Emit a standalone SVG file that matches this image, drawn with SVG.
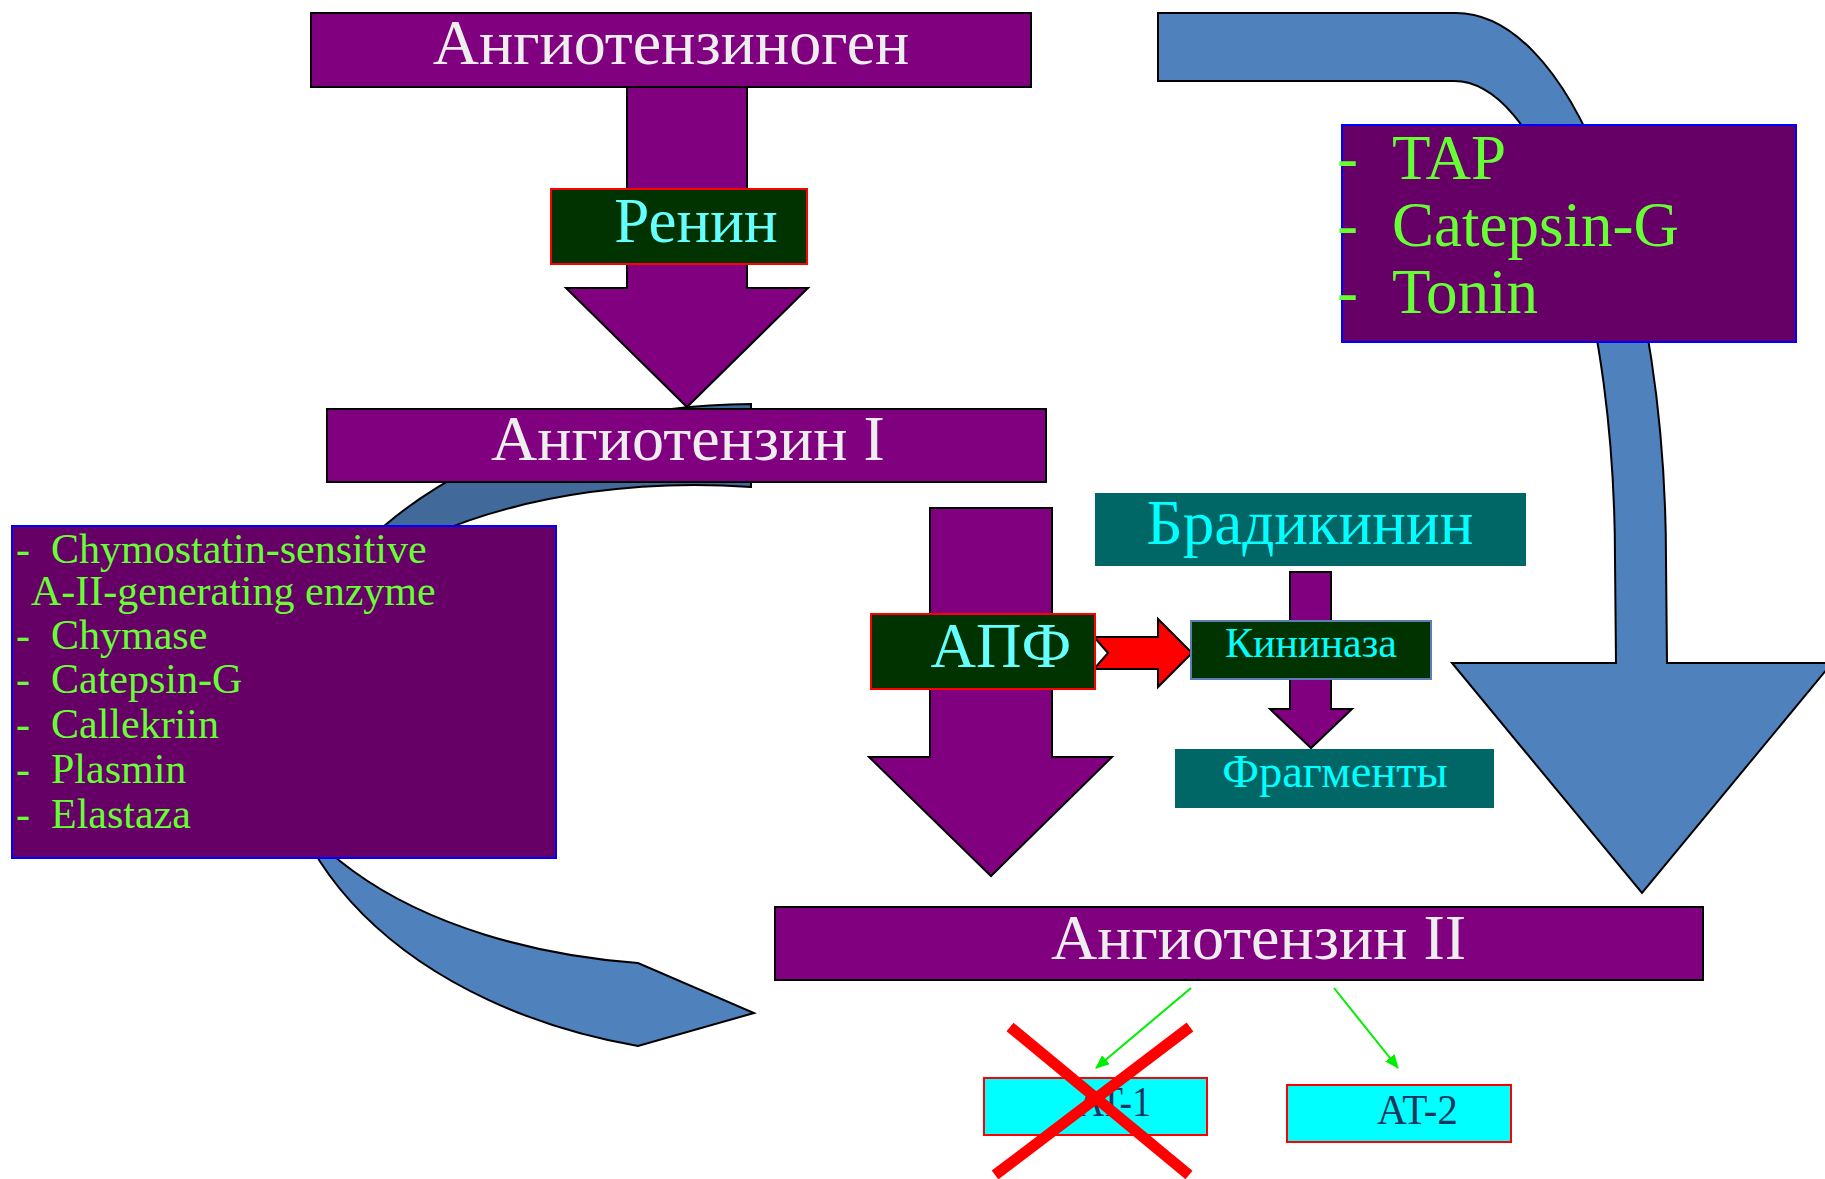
<svg xmlns="http://www.w3.org/2000/svg" width="1825" height="1179" viewBox="0 0 1825 1179">
<style>
text{font-family:"Liberation Serif","Times New Roman",serif}
.ang{fill:#800080;stroke:#000;stroke-width:2}
.angt{fill:#eeeeee;font-size:64px}
.enz{fill:#003300;stroke:#ff0000;stroke-width:2}
.enzt{fill:#66ffff;font-size:63px}
.lst{fill:#660066;stroke:#0000ff;stroke-width:2}
.lstt{fill:#66ff33}
.teal{fill:#006666}
.cy{fill:#00ffff}
.parr{fill:#800080;stroke:#000;stroke-width:2;stroke-linejoin:miter}
.barr{stroke:#000;stroke-width:2}
.at{fill:#00ffff;stroke:#ff0000;stroke-width:2}
.att{fill:#17375e;font-size:42px}
.garr{stroke:#00ee00;stroke-width:2;fill:none}
.x{stroke:#ff0000;stroke-width:11;stroke-linecap:butt}
</style>
<defs>
<linearGradient id="lg" gradientUnits="userSpaceOnUse" x1="0" y1="400" x2="0" y2="1050">
<stop offset="0" stop-color="#416a9a"/>
<stop offset="0.193" stop-color="#416a9a"/>
<stop offset="0.194" stop-color="#4f81bd"/>
<stop offset="1" stop-color="#4f81bd"/>
</linearGradient>
<marker id="ga" markerWidth="14" markerHeight="12" refX="13" refY="6" orient="auto" markerUnits="userSpaceOnUse">
<path d="M0,0 L14,6 L0,12 Z" fill="#00ee00"/>
</marker>
</defs>

<g id="connectors">
<path id="blue-right" class="barr" fill="#4f81bd" d="M1158,13 L1456,13 A210,547 0 0 1 1666,560 L1667,663 L1832,663 L1642,893 L1452,663 L1616,663 L1615,560 A161,479 0 0 0 1454,81 L1158,81 Z"/>
<path id="blue-left" class="barr" fill="url(#lg)" d="M751,404 A475,326 0 0 0 638,1046 L754,1013 L638,963 A430,240 0 0 1 751,487 Z"/>
<path id="arrow-renin" class="parr" d="M627,87 L747,87 L747,288 L808,288 L687,407 L566,288 L627,288 Z"/>
<path id="arrow-apf" class="parr" d="M930,508 L1052,508 L1052,757 L1112,757 L991,876 L869,757 L930,757 Z"/>
<path id="arrow-red" fill="#ff0000" stroke="#000" stroke-width="2" d="M1094,637 L1158,637 L1158,619 L1192,653 L1158,687 L1158,669 L1094,669 L1108,653 Z"/>
<path id="arrow-kin" class="parr" d="M1290,572 L1331,572 L1331,709 L1352,709 L1311,748 L1270,709 L1290,709 Z"/>
<line class="garr" x1="1191" y1="988" x2="1096" y2="1068" marker-end="url(#ga)"/>
<line class="garr" x1="1334" y1="988" x2="1398" y2="1068" marker-end="url(#ga)"/>
</g>

<g id="angiotensinogen">
<rect class="ang" x="311" y="13" width="720" height="74"/>
<text class="angt" x="671" y="64" text-anchor="middle">Ангиотензиноген</text>
</g>
<g id="renin">
<rect class="enz" x="551" y="189" width="256" height="75"/>
<text class="enzt" x="696" y="242" text-anchor="middle">Ренин</text>
</g>
<g id="angiotensin1">
<rect class="ang" x="327" y="409" width="719" height="73"/>
<text class="angt" x="688" y="460" text-anchor="middle">Ангиотензин I</text>
</g>
<g id="list-left">
<rect class="lst" x="12" y="526" width="544" height="332"/>
<g class="lstt" font-size="42">
<text x="16" y="563">-</text><text x="51" y="563">Chymostatin-sensitive</text>
<text x="31" y="605">A-II-generating enzyme</text>
<text x="16" y="649">-</text><text x="51" y="649">Chymase</text>
<text x="16" y="693">-</text><text x="51" y="693">Catepsin-G</text>
<text x="16" y="738">-</text><text x="51" y="738">Callekriin</text>
<text x="16" y="783">-</text><text x="51" y="783">Plasmin</text>
<text x="16" y="828">-</text><text x="51" y="828">Elastaza</text>
</g>
</g>
<g id="list-right">
<rect class="lst" x="1342" y="125" width="454" height="217"/>
<g class="lstt" font-size="63">
<text x="1337" y="179">-</text><text x="1392" y="179">TAP</text>
<text x="1337" y="246">-</text><text x="1392" y="246">Catepsin-G</text>
<text x="1337" y="313">-</text><text x="1392" y="313">Tonin</text>
</g>
</g>
<g id="bradykinin">
<rect class="teal" x="1095" y="493" width="431" height="73"/>
<text class="cy" x="1310" y="544" font-size="63" text-anchor="middle">Брадикинин</text>
</g>
<g id="apf">
<rect class="enz" x="871" y="614" width="224" height="75"/>
<text class="enzt" x="1001" y="667" text-anchor="middle">АПФ</text>
</g>
<g id="kininase">
<rect x="1191" y="621" width="240" height="58" fill="#003300" stroke="#5b7fb5" stroke-width="2"/>
<text class="cy" x="1311" y="657" font-size="42" text-anchor="middle">Кининаза</text>
</g>
<g id="fragments">
<rect class="teal" x="1175" y="749" width="319" height="59"/>
<text class="cy" x="1335" y="787" font-size="46.5" text-anchor="middle">Фрагменты</text>
</g>
<g id="angiotensin2">
<rect class="ang" x="775" y="907" width="928" height="73"/>
<text class="angt" x="1051" y="959">Ангиотензин II</text>
</g>
<g id="at1">
<rect class="at" x="984" y="1078" width="223" height="57"/>
<text class="att" x="1077" y="1116" textLength="74" lengthAdjust="spacingAndGlyphs">AT-1</text>
</g>
<g id="at2">
<rect class="at" x="1287" y="1085" width="224" height="57"/>
<text class="att" x="1377" y="1124" textLength="81" lengthAdjust="spacingAndGlyphs">AT-2</text>
</g>
<g id="cross">
<line class="x" x1="1010" y1="1027" x2="1189" y2="1175"/>
<line class="x" x1="1190" y1="1027" x2="995" y2="1175"/>
</g>
</svg>
